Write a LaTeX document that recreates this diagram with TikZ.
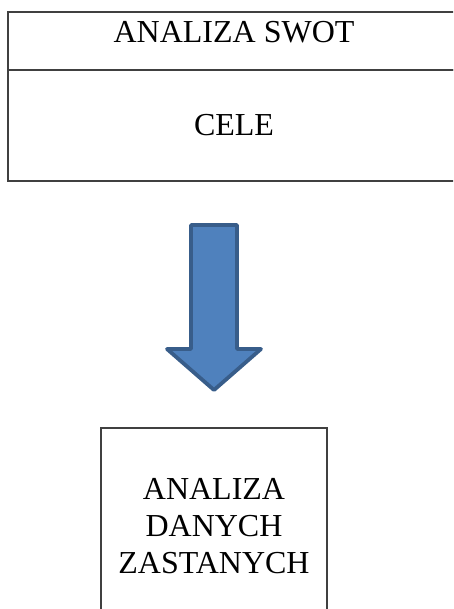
\documentclass[tikz,border=0pt]{standalone}
\usepackage{fontspec}
\setmainfont{Liberation Serif}
\definecolor{boxline}{HTML}{404040}
\definecolor{arrowfill}{HTML}{4F81BD}
\definecolor{arrowline}{HTML}{385D8A}
\begin{document}
\begin{tikzpicture}[x=1pt,y=1pt,
  boxstyle/.style={draw=boxline,line width=1.1pt,rectangle,inner sep=0pt,align=center,
    font=\fontsize{32}{37}\selectfont},
  bigarrow/.style={fill=arrowfill,draw=arrowline,line width=3.8pt,line join=round}]
\clip (0,0) rectangle (453,-609);
\node[boxstyle,minimum width=452,minimum height=58,text height=22pt,text depth=18pt] (swot) at (234,-41) {ANALIZA SWOT};
\node[boxstyle,minimum width=452,minimum height=111] (cele) at (234,-125.5) {CELE};
\draw[bigarrow] (191,-225) -- (237,-225) -- (237,-349) -- (261,-349) -- (214,-390)
  -- (167,-349) -- (191,-349) -- cycle;
\node[boxstyle,minimum width=226,minimum height=196] (dane) at (214,-526)
  {ANALIZA\\DANYCH\\ZASTANYCH};
\end{tikzpicture}
\end{document}
